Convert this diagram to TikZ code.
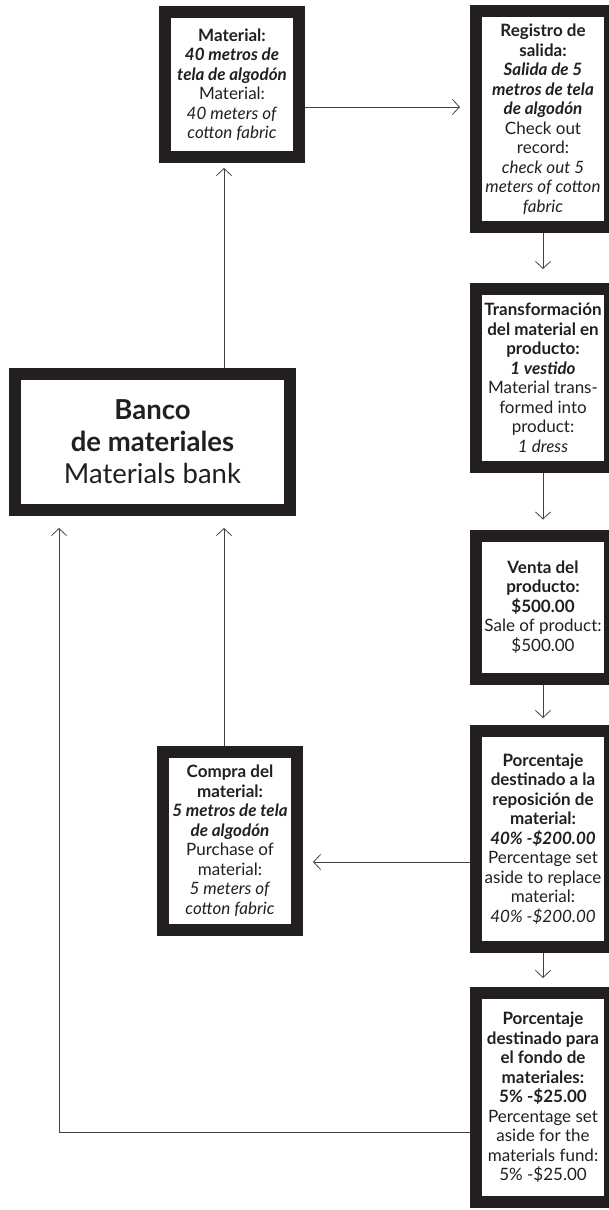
\documentclass[tikz,border=0pt]{standalone}
\usepackage{fontspec}
\setmainfont{Lato}
\usetikzlibrary{arrows.meta}
\definecolor{ink}{HTML}{231F20}

\begin{document}
\begin{tikzpicture}[x=1pt,y=-1pt,
	box/.style={draw=ink,line width=12pt,fill=white,text=ink,align=center,
		inner sep=1pt,minimum width=134pt,font=\fontsize{17}{19.5}\selectfont},
	bigbox/.style={box,font=\fontsize{27.5}{32}\selectfont},
	arr/.style={draw=ink!85,line width=0.8pt,
		-{Straight Barb[length=7pt,width=15pt]},shorten >=10pt}]
\useasboundingbox (0,0) rectangle (609,1210);
\clip (0,0) rectangle (609,1210);

% left column
\node[box,minimum height=145pt] (mat) at (232,84.5)
	{\textbf{Material:}\\ \textbf{\textit{40 metros de}}\\ \textbf{\textit{tela de algodón}}\\
	Material:\\ \textit{40 meters of}\\ \textit{cotton fabric}};
\node[bigbox,minimum width=275pt,minimum height=136pt] (bank) at (152.5,442)
	{\textbf{Banco}\\ \textbf{de materiales}\\ Materials bank};
\node[box,minimum height=178pt] (buy) at (230,840.5)
	{\textbf{Compra del}\\ \textbf{material:}\\ \textbf{\textit{5 metros de tela}}\\
	\textbf{\textit{de algodón}}\\ Purchase of\\ material:\\ \textit{5 meters of}\\ \textit{cotton fabric}};

% right column
\node[box,minimum height=216pt] (reg) at (543,119)
	{\textbf{Registro de}\\ \textbf{salida:}\\ \textbf{\textit{Salida de 5}}\\
	\textbf{\textit{metros de tela}}\\ \textbf{\textit{de algodón}}\\ Check out\\ record:\\
	\textit{check out 5}\\ \textit{meters of cotton}\\ \textit{fabric}};
\node[box,minimum height=178pt] (trans) at (543,378)
	{\textbf{Transformación}\\ \textbf{del material en}\\ \textbf{producto:}\\
	\textbf{\textit{1 vestido}}\\ Material trans-\\ formed into\\ product:\\ \textit{1 dress}};
\node[box,minimum height=143pt] (sale) at (543,607)
	{\textbf{Venta del}\\ \textbf{producto:}\\ \textbf{\$500.00}\\ Sale of product:\\ \$500.00};
\node[box,minimum height=216pt] (share) at (543,839)
	{\textbf{Porcentaje}\\ \textbf{destinado a la}\\ \textbf{reposición de}\\ \textbf{material:}\\
	\textbf{\textit{40\% -\$200.00}}\\ Percentage set\\ aside to replace\\ material:\\
	\textit{40\% -\$200.00}};
\node[box,minimum height=209pt] (fund) at (543,1097.5)
	{\textbf{Porcentaje}\\ \textbf{destinado para}\\ \textbf{el fondo de}\\ \textbf{materiales:}\\
	\textbf{5\% -\$25.00}\\ Percentage set\\ aside for the\\ materials fund:\\ 5\% -\$25.00};

% where the connectors run
\coordinate (colA) at (224,0);
\coordinate (colB) at (59,0);
\coordinate (rowA) at (0,107);
\coordinate (rowB) at (0,862);
\coordinate (rowC) at (0,1132);

\draw[arr,shorten >=5pt] (colA |- bank.north) -- (colA |- mat.south);
\draw[arr] (rowA -| mat.east) -- (rowA -| reg.west);
\draw[arr,shorten >=14pt] (reg.south) -- (trans.north);
\draw[arr] (trans.south) -- (sale.north);
\draw[arr,shorten >=7pt] (sale.south) -- (share.north);
\draw[arr,shorten >=9pt] (share.south) -- (fund.north);
\draw[arr] (rowB -| share.west) -- (rowB -| buy.east);
\draw[arr,shorten >=12pt] (colA |- buy.north) -- (colA |- bank.south);
\draw[arr,shorten >=12pt] (rowC -| fund.west) -- (rowC -| colB) -- (colB |- bank.south);
\end{tikzpicture}
\end{document}
